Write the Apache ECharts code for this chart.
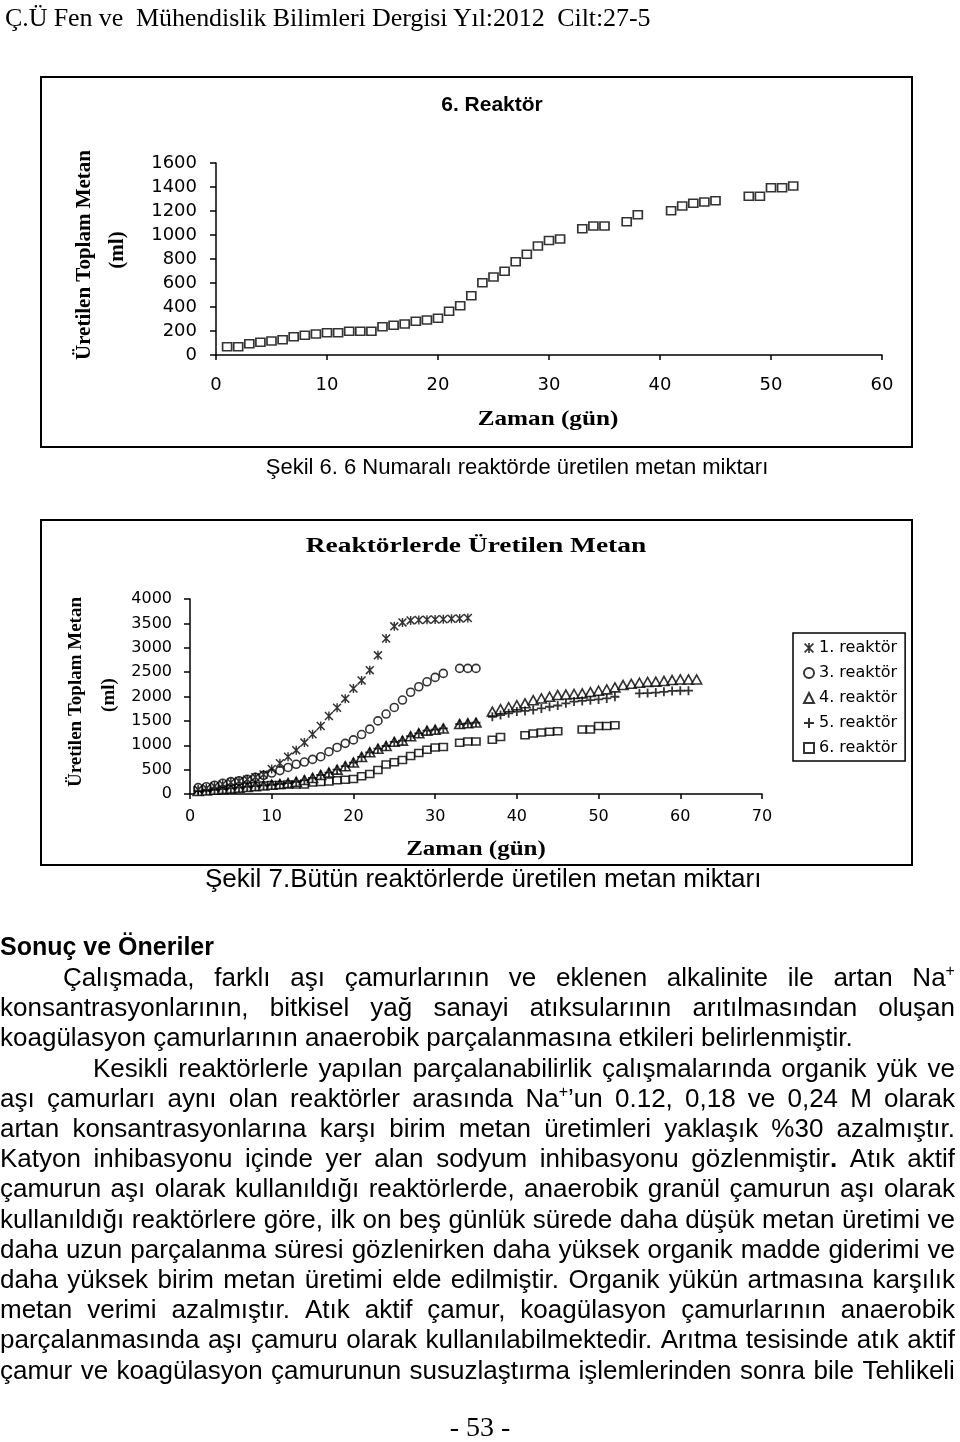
<!DOCTYPE html>
<html>
<head>
<meta charset="utf-8">
<script src="https://cdn.jsdelivr.net/npm/echarts/dist/echarts.min.js"></script>
<style>
  html, body { margin:0; padding:0; background:#fff; }
  #page { position:relative; width:960px; height:1442px; overflow:hidden; }
  #fig { position:absolute; left:0; top:0; width:960px; height:1442px; }
  .txt { position:absolute; color:#000; white-space:nowrap; }
  .ln { position:absolute; height:30px; line-height:30px; font:26px "Liberation Sans", Arial, sans-serif; color:#000; white-space:nowrap; }
  .ln.j { display:flex; justify-content:space-between; }
  .ln sup { font-size:16px; line-height:0; vertical-align:10px; }
</style>
</head>
<body>
<div id="page">
  <div id="fig"></div>
  <div class="txt" style="left:5px;top:3px;font:26px 'Liberation Serif',serif;line-height:30px;letter-spacing:-0.1px;">Ç.Ü Fen ve&nbsp; Mühendislik Bilimleri Dergisi Yıl:2012&nbsp; Cilt:27-5</div>
  <div class="txt" style="left:0;top:931px;font:bold 25px 'Liberation Sans',sans-serif;line-height:30px;">Sonuç ve Öneriler</div>
  <div class="txt" style="left:0;width:960px;text-align:center;top:1411px;font:28px 'Liberation Serif',serif;line-height:32px;">- 53 -</div>
  <div id="body"></div>
</div>
<script>
// reactor 6 (used in both charts)
var days6 = [1,2,3,4,5,6,7,8,9,10,11,12,13,14,15,16,17,18,19,20,21,22,23,24,25,26,27,28,29,30,31,33,34,35,37,38,41,42,43,44,45,48,49,50,51,52];
var vals6 = [69,69,94,106,117,128,153,164,175,186,186,197,197,197,236,247,258,281,292,306,364,411,494,603,650,697,778,839,908,955,966,1052,1075,1075,1111,1169,1203,1242,1264,1275,1286,1322,1322,1394,1394,1408];

// reactor 1
var days1 = [1,2,3,4,5,6,7,8,9,10,11,12,13,14,15,16,17,18,19,20,21,22,23,24,25,26,27,28,29,30,31,32,33,34];
var vals1 = [90,120,160,200,235,265,300,345,400,515,630,765,900,1055,1225,1395,1600,1770,1955,2165,2330,2540,2845,3190,3440,3520,3560,3570,3575,3580,3585,3595,3600,3610];

// reactor 3
var days3 = [1,2,3,4,5,6,7,8,9,10,11,12,13,14,15,16,17,18,19,20,21,22,23,24,25,26,27,28,29,30,31,33,34,35];
var vals3 = [130,150,180,219,253,273,301,342,383,430,480,545,610,655,710,765,868,955,1039,1110,1220,1330,1500,1640,1775,1927,2087,2200,2302,2392,2474,2576,2576,2576];

// reactor 4
var days4 = [1,2,3,4,5,6,7,8,9,10,11,12,13,14,15,16,17,18,19,20,21,22,23,24,25,26,27,28,29,30,31,33,34,35,37,38,39,40,41,42,43,44,45,46,47,48,49,50,51,52,53,54,55,56,57,58,59,60,61,62];
var vals4 = [60,70,85,100,115,130,145,160,175,190,205,225,250,285,330,390,440,500,570,645,760,855,930,985,1070,1095,1185,1245,1300,1320,1345,1435,1450,1465,1690,1740,1780,1820,1860,1925,1960,1995,2030,2040,2052,2064,2090,2118,2146,2187,2235,2260,2282,2300,2305,2320,2337,2350,2350,2350];

// reactor 5
var days5 = [1,2,3,4,5,6,7,8,9,10,11,12,13,14,15,16,17,18,19,20,21,22,23,24,25,26,27,28,29,30,31,33,34,35,37,38,39,40,41,42,43,44,45,46,47,48,49,50,51,52,55,56,57,58,59,60,61];
var vals5 = [60,70,85,100,115,130,145,160,175,190,205,225,250,285,330,390,440,500,570,645,760,855,930,985,1070,1095,1185,1245,1300,1320,1345,1435,1450,1465,1585,1620,1655,1690,1705,1725,1755,1790,1815,1860,1895,1910,1925,1940,1960,1995,2065,2070,2080,2095,2115,2118,2120];

var legendNames = ['1. reaktör','3. reaktör','4. reaktör','5. reaktör','6. reaktör'];
var ticks1 = {xMax:60, xStep:10, yMax:1600, yStep:200};
var ticks2 = {xMax:70, xStep:10, yMax:4000, yStep:500};

var bodyLines = [
  ['Çalışmada, farklı aşı çamurlarının ve eklenen alkalinite ile artan Na<sup>+</sup>', 63, true],
  ['konsantrasyonlarının, bitkisel yağ sanayi atıksularının arıtılmasından oluşan', 0, true],
  ['koagülasyon çamurlarının anaerobik parçalanmasına etkileri belirlenmiştir.', 0, false],
  ['Kesikli reaktörlerle yapılan parçalanabilirlik çalışmalarında organik yük ve', 93, true],
  ['aşı çamurları aynı olan reaktörler arasında Na<sup>+</sup>’un 0.12, 0,18 ve 0,24 M olarak', 0, true],
  ['artan konsantrasyonlarına karşı birim metan üretimleri yaklaşık %30 azalmıştır.', 0, true],
  ['Katyon inhibasyonu içinde yer alan sodyum inhibasyonu gözlenmiştir<b>.</b> Atık aktif', 0, true],
  ['çamurun aşı olarak kullanıldığı reaktörlerde, anaerobik granül çamurun aşı olarak', 0, true],
  ['kullanıldığı reaktörlere göre, ilk on beş günlük sürede daha düşük metan üretimi ve', 0, true],
  ['daha uzun parçalanma süresi gözlenirken daha yüksek organik madde giderimi ve', 0, true],
  ['daha yüksek birim metan üretimi elde edilmiştir. Organik yükün artmasına karşılık', 0, true],
  ['metan verimi azalmıştır. Atık aktif çamur, koagülasyon çamurlarının anaerobik', 0, true],
  ['parçalanmasında aşı çamuru olarak kullanılabilmektedir. Arıtma tesisinde atık aktif', 0, true],
  ['çamur ve koagülasyon çamurunun susuzlaştırma işlemlerinden sonra bile Tehlikeli', 0, true]
];

var bodyEl = document.getElementById('body');
bodyLines.forEach(function(l, i){
  var d = document.createElement('div');
  d.className = 'ln' + (l[2] ? ' j' : '');
  d.style.left = l[1] + 'px';
  d.style.top = Math.round(962 + i * 30.2) + 'px';
  if (l[2]) {
    d.style.width = (955 - l[1]) + 'px';
    d.innerHTML = l[0].split(' ').map(function(w){ return '<span>' + w + '</span>'; }).join('');
  } else {
    d.innerHTML = l[0];
  }
  bodyEl.appendChild(d);
});

function pts(d, v){ return d.map(function(x, i){ return [x, v[i]]; }); }

var PLUS = 'path://M4,0H6V4H10V6H6V10H4V6H0V4H4Z';
var STAR = 'path://M4.2,0H5.8V10H4.2Z M0,1.2L1.2,0L10,8.8L8.8,10Z M8.8,0L10,1.2L1.2,10L0,8.8Z';
var hollow = {color:'#fff', borderColor:'#000', borderWidth:1.6};
var solid = {color:'#000', borderWidth:0};
var plain = function(v){ return String(v); };

function xAx(idx, t, fs, margin){
  return {
    gridIndex: idx, type:'value', min:0, max:t.xMax, interval:t.xStep,
    axisLine:{show:true, onZero:false, lineStyle:{color:'#000', width:1.5}},
    axisTick:{show:true, length:5, lineStyle:{color:'#000', width:1.5}},
    axisLabel:{color:'#000', fontFamily:'DejaVu Sans', fontSize:fs, margin:margin, formatter:plain},
    splitLine:{show:false}
  };
}
function yAx(idx, t, fs, margin){
  return {
    gridIndex: idx, type:'value', min:0, max:t.yMax, interval:t.yStep,
    axisLine:{show:true, onZero:false, lineStyle:{color:'#000', width:1.5}},
    axisTick:{show:true, length:6, lineStyle:{color:'#000', width:1.5}},
    axisLabel:{color:'#000', fontFamily:'DejaVu Sans', fontSize:fs, margin:margin, formatter:plain},
    splitLine:{show:false}
  };
}
function txt(x, y, s, font, opts){
  var o = {type:'text', x:x, y:y, silent:true, style:{text:s, fill:'#000', align:'center', verticalAlign:'middle',
    fontFamily:font.family, fontSize:font.size, fontWeight:font.weight || 'normal'}};
  if (opts) for (var k in opts) o[k] = opts[k];
  return o;
}
var serifB = function(sz){ return {family:'Liberation Serif', size:sz, weight:'bold'}; };
var sans = function(sz, w){ return {family:'Liberation Sans', size:sz, weight:w}; };

var chart = echarts.init(document.getElementById('fig'), null, {renderer:'canvas'});
chart.setOption({
  backgroundColor:'#fff',
  animation:false,
  grid:[
    {left:216, top:163, width:666, height:192, outerBoundsMode:'none'},
    {left:190, top:599, width:572, height:195, outerBoundsMode:'none'}
  ],
  xAxis:[ xAx(0, ticks1, 18, 21), xAx(1, ticks2, 16, 15) ],
  yAxis:[ yAx(0, ticks1, 18, 19), yAx(1, ticks2, 16, 18) ],
  legend:{
    data: legendNames, orient:'vertical', left:793, top:633,
    padding:[7,8,5,10], itemGap:9, itemWidth:10, itemHeight:10,
    borderColor:'#000', borderWidth:1.5, selectedMode:false,
    textStyle:{color:'#000', fontFamily:'DejaVu Sans', fontSize:16, lineHeight:16}
  },
  series:[
    {name:'6. Reaktör', type:'scatter', xAxisIndex:0, yAxisIndex:0, symbol:'rect', symbolSize:[9,8],
      itemStyle:hollow, data:pts(days6, vals6)},
    {name:'6. reaktör', type:'scatter', xAxisIndex:1, yAxisIndex:1, symbol:'rect', symbolSize:[8,7],
      itemStyle:hollow, data:pts(days6, vals6)},
    {name:'4. reaktör', type:'scatter', xAxisIndex:1, yAxisIndex:1, symbol:'triangle', symbolSize:[10,9],
      itemStyle:hollow, data:pts(days4, vals4)},
    {name:'5. reaktör', type:'scatter', xAxisIndex:1, yAxisIndex:1, symbol:PLUS, symbolSize:9,
      itemStyle:solid, data:pts(days5, vals5)},
    {name:'3. reaktör', type:'scatter', xAxisIndex:1, yAxisIndex:1, symbol:'circle', symbolSize:8,
      itemStyle:hollow, data:pts(days3, vals3)},
    {name:'1. reaktör', type:'scatter', xAxisIndex:1, yAxisIndex:1, symbol:STAR, symbolSize:9,
      itemStyle:solid, data:pts(days1, vals1)}
  ],
  graphic:[
    {type:'rect', silent:true, shape:{x:41, y:77, width:871, height:370}, style:{fill:null, stroke:'#000', lineWidth:2}},
    {type:'rect', silent:true, shape:{x:41, y:520, width:871, height:345}, style:{fill:null, stroke:'#000', lineWidth:2}},
    txt(492, 105, '6. Reaktör', sans(21, 'bold')),
    txt(85, 255, 'Üretilen Toplam Metan', serifB(21), {rotation:Math.PI/2}),
    txt(118, 250, '(ml)', serifB(21), {rotation:Math.PI/2}),
    txt(548, 420, 'Zaman (gün)', serifB(21), {scaleX:1.2}),
    txt(476, 547, 'Reaktörlerde Üretilen Metan', serifB(20), {scaleX:1.37}),
    txt(76, 692, 'Üretilen Toplam Metan', serifB(19), {rotation:Math.PI/2}),
    txt(109, 695, '(ml)', serifB(19), {rotation:Math.PI/2}),
    txt(476, 850, 'Zaman (gün)', serifB(20), {scaleX:1.25}),
    txt(517, 468, 'Şekil 6. 6 Numaralı reaktörde üretilen metan miktarı', sans(22)),
    {type:'text', x:205, y:880, silent:true, style:{text:'Şekil 7.Bütün reaktörlerde üretilen metan miktarı', fill:'#000',
      align:'left', verticalAlign:'middle', fontFamily:'Liberation Sans', fontSize:26}}
  ]
});
</script>
</body>
</html>
